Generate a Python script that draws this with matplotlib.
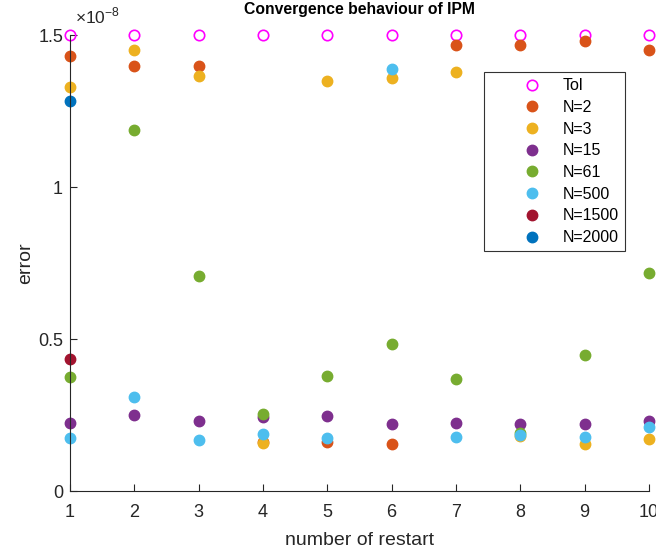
import numpy as np
import matplotlib.pyplot as plt
from matplotlib.ticker import FuncFormatter

plt.rcParams['font.family'] = ['Liberation Sans', 'DejaVu Sans']
plt.rcParams['mathtext.fontset'] = 'custom'
plt.rcParams['mathtext.rm'] = 'Liberation Sans'

restarts = np.arange(1, 11)
tol = [1.5e-8] * 10

# error values (x 1e-8), nan = no point
err = {
    'N=2':    [1.43, 1.40, 1.40, 0.16, 0.16, 0.154, 1.466, 1.466, 1.48, 1.45],
    'N=3':    [1.328, 1.45, 1.367, 0.157, 1.348, 1.36, 1.38, 0.18, 0.154, 0.17],
    'N=15':   [0.223, 0.249, 0.23, 0.243, 0.246, 0.22, 0.223, 0.22, 0.22, 0.23],
    'N=61':   [0.374, 1.187, 0.708, 0.252, 0.377, 0.485, 0.367, 0.19, 0.449, 0.718],
    'N=500':  [0.174, 0.311, 0.167, 0.187, 0.174, 1.39, 0.177, 0.184, 0.177, 0.21],
    'N=1500': [0.436] + [np.nan] * 9,
    'N=2000': [1.282] + [np.nan] * 9,
}
colors = ['#D95319', '#EDB120', '#7E2F8E', '#77AC30', '#4DBEEE', '#A2142F', '#0072BD']

fig = plt.figure(figsize=(6.56, 5.49), dpi=100)
ax = fig.add_axes([0.1067, 0.1056, 0.8826, 0.8304])

ax.plot(restarts, tol, 'o', mfc='none', mec='#FF00FF', ms=7.5, mew=1.2, label='Tol', clip_on=False)
for (name, vals), c in zip(err.items(), colors):
    ax.plot(restarts, np.array(vals) * 1e-8, 'o', color=c, ms=7.5, label=name, clip_on=False)

ax.set_xlim(1, 10)
ax.set_ylim(0, 1.5e-8)
ax.set_xticks(restarts)
ax.set_yticks([0, 0.5e-8, 1e-8, 1.5e-8])
ax.yaxis.set_major_formatter(FuncFormatter(lambda v, p: '%g' % round(v / 1e-8, 3)))
ax.spines['top'].set_visible(False)
ax.spines['right'].set_visible(False)
for s in ['left', 'bottom']:
    ax.spines[s].set_color('#262626')
ax.tick_params(direction='in', labelsize=13, colors='#262626', length=5)
ax.tick_params(axis='x', pad=9)
ax.tick_params(axis='y', pad=5)
ax.text(0.008, 1.02, r'$\times10^{-8}$', transform=ax.transAxes, fontsize=12.5,
        color='#262626', ha='left', va='bottom')

ax.set_xlabel('number of restart', fontsize=14, color='#262626', labelpad=8)
ax.set_ylabel('error', fontsize=14, color='#262626', labelpad=3)
ax.set_title('Convergence behaviour of IPM', fontsize=11.3, fontweight='bold', pad=15)

leg = ax.legend(loc='upper right', bbox_to_anchor=(0.9585, 0.919), borderaxespad=0,
                fontsize=11.5, frameon=True, fancybox=False, edgecolor='black',
                handlelength=5.2, handletextpad=-0.66, labelspacing=0.42, borderpad=0.38)
leg.get_frame().set_linewidth(0.8)

fig.savefig('out.png', dpi=100)
